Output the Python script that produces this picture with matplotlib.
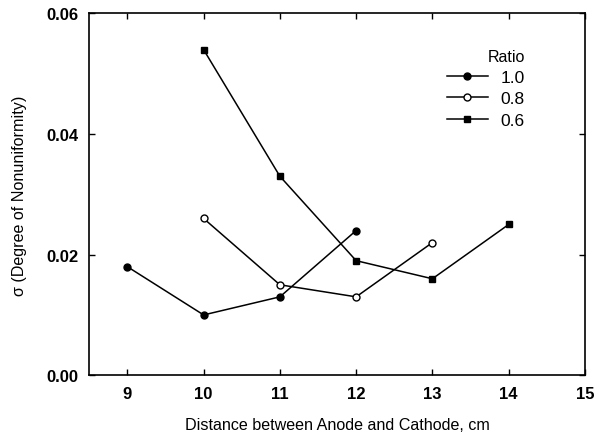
import matplotlib
matplotlib.use("Agg")
import matplotlib.pyplot as plt

plt.rcParams['font.family'] = ['Liberation Sans', 'DejaVu Sans']

x_10 = [9, 10, 11, 12]
y_10 = [0.018, 0.010, 0.013, 0.024]
x_08 = [10, 11, 12, 13]
y_08 = [0.026, 0.015, 0.013, 0.022]
x_06 = [10, 11, 12, 13, 14]
y_06 = [0.054, 0.033, 0.019, 0.016, 0.025]
labels = ['1.0', '0.8', '0.6']

fig = plt.figure(figsize=(6.03, 4.39), dpi=100)
ax = fig.add_axes([0.148, 0.143, 0.822, 0.824])

ax.plot(x_10, y_10, '-o', color='black', lw=1.1, ms=5, mfc='black', label=labels[0])
ax.plot(x_08, y_08, '-o', color='black', lw=1.1, ms=5, mfc='white', label=labels[1])
ax.plot(x_06, y_06, '-s', color='black', lw=1.1, ms=5, mfc='black', label=labels[2])

ax.set_xlim(8.5, 15)
ax.set_ylim(0, 0.06)
ax.set_xticks([9, 10, 11, 12, 13, 14, 15])
ax.set_yticks([0.0, 0.02, 0.04, 0.06])
ax.set_yticklabels(['0.00', '0.02', '0.04', '0.06'])
ax.tick_params(direction='in', top=True, right=True, length=4, width=1, labelsize=12, pad=8)
for t in ax.get_xticklabels() + ax.get_yticklabels():
    t.set_fontweight('bold')
for s in ax.spines.values():
    s.set_linewidth(1.2)

ax.set_xlabel('Distance between Anode and Cathode, cm', fontsize=11.6, labelpad=11)
ax.set_ylabel('σ (Degree of Nonuniformity)', fontsize=11.6, labelpad=14)

leg = ax.legend(title='Ratio', frameon=False, loc='upper right',
                bbox_to_anchor=(0.91, 0.945), fontsize=12.5, title_fontsize=11.5,
                handlelength=2.4, labelspacing=0.35, handletextpad=0.7)
leg._legend_box.align = 'right'

fig.savefig('out.png', dpi=100)
